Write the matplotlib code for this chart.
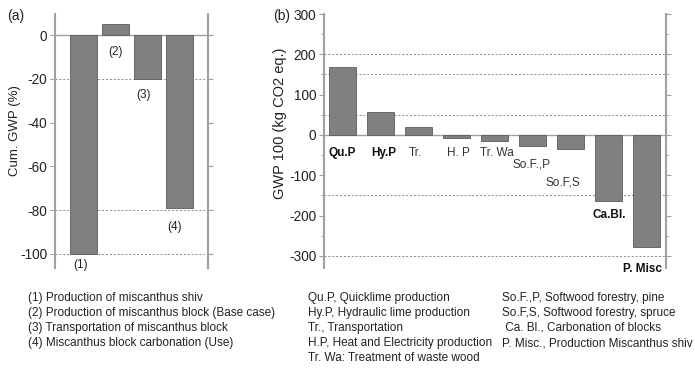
import matplotlib
matplotlib.use("Agg")
import matplotlib.pyplot as plt
from matplotlib.ticker import MultipleLocator

plt.rcParams['font.family'] = ['Liberation Sans', 'DejaVu Sans']
plt.rcParams['axes.unicode_minus'] = False

# ---- data ----
a_labels = ["(1)", "(2)", "(3)", "(4)"]
a_values = [-100, 5, -20, -79]

b_labels = ["Qu.P", "Hy.P", "Tr.", "H. P", "Tr. Wa", "So.F.,P", "So.F,S", "Ca.Bl.", "P. Misc"]
b_values = [168, 58, 20, -8, -15, -27, -34, -164, -277]
b_bold = [True, True, False, False, False, False, False, True, True]

legend_a = ["(1) Production of miscanthus shiv",
            "(2) Production of miscanthus block (Base case)",
            "(3) Transportation of miscanthus block",
            "(4) Miscanthus block carbonation (Use)"]
legend_b1 = ["Qu.P, Quicklime production",
             "Hy.P, Hydraulic lime production",
             "Tr., Transportation",
             "H.P, Heat and Electricity production",
             "Tr. Wa: Treatment of waste wood"]
legend_b2 = ["So.F.,P, Softwood forestry, pine",
             "So.F,S, Softwood forestry, spruce",
             " Ca. Bl., Carbonation of blocks",
             "P. Misc., Production Miscanthus shiv"]

# ---- layout (label placement) ----
a_lab_x = [-0.09, 0.0, -0.13, -0.17]
a_lab_y = [-105, -7.8, -27.4, -87.7]
b_lab_dx = [0.0, 0.07, -0.1, 0.04, 0.05, -0.03, -0.22, 0.0, -0.13]
b_lab_y = [-44, -44, -44, -44, -44, -74, -119, -199, -332]

W, H = 695, 368
fig = plt.figure(figsize=(W / 100, H / 100), dpi=100)

BAR = '#808080'
EDGE = '#5a5a5a'
SPINE = '#a0a0a0'
GRID = '#8a8a8a'
TXT = '#222222'


def style(ax):
    for s in ['top', 'bottom']:
        ax.spines[s].set_visible(False)
    for s in ['left', 'right']:
        ax.spines[s].set_color(SPINE)
        ax.spines[s].set_linewidth(1.5)
    ax.tick_params(axis='x', bottom=False, labelbottom=False)
    ax.tick_params(axis='y', which='both', direction='out', color=SPINE,
                   right=True, labelsize=9.8, labelcolor=TXT)
    ax.tick_params(axis='y', which='major', length=3.5, width=0.8, pad=2)
    ax.tick_params(axis='y', which='minor', length=2, width=0.6)


# ---- panel (a) ----
axa = fig.add_axes([55 / W, 1 - 268 / H, 153 / W, 254 / H])
style(axa)
xa = list(range(len(a_values)))
for g in [-20, -80, -100]:
    axa.axhline(g, color=GRID, lw=0.7, ls=(0, (2, 2)), zorder=0)
axa.axhline(0, color=SPINE, lw=1.0, zorder=1)
axa.bar(xa, a_values, width=0.84, color=BAR, edgecolor=EDGE, linewidth=0.6, zorder=2)
axa.set_xlim(-0.89, 3.89)
axa.set_ylim(-106.4, 9.6)
axa.yaxis.set_major_locator(MultipleLocator(20))
axa.set_ylabel("Cum. GWP (%)", fontsize=9.5, color=TXT)
axa.yaxis.set_label_coords(-0.222, 0.54)
for i, (lab, lx, ly) in enumerate(zip(a_labels, a_lab_x, a_lab_y)):
    axa.text(xa[i] + lx, ly, lab, ha='center', va='center', fontsize=8.5,
             color=TXT, clip_on=False)
fig.text(16 / W, 1 - 16 / H, "(a)", ha='center', va='center', fontsize=10, color=TXT)

# ---- panel (b) ----
axb = fig.add_axes([324 / W, 1 - 268 / H, 342 / W, 254 / H])
style(axb)
xb = list(range(len(b_values)))
for g in [200, 150, 50, -150, -300]:
    axb.axhline(g, color=GRID, lw=0.7, ls=(0, (2, 2)), zorder=0)
axb.axhline(0, color=SPINE, lw=1.0, zorder=1)
axb.bar(xb, b_values, width=0.71, color=BAR, edgecolor=EDGE, linewidth=0.6, zorder=2)
axb.set_xlim(-0.49, 8.5)
axb.set_ylim(-330, 300)
axb.yaxis.set_major_locator(MultipleLocator(100))
axb.yaxis.set_minor_locator(MultipleLocator(50))
axb.set_ylabel("GWP 100 (kg CO2 eq.)", fontsize=10.5, color=TXT)
axb.yaxis.set_label_coords(-0.108, 0.57)
for i, lab in enumerate(b_labels):
    axb.text(xb[i] + b_lab_dx[i], b_lab_y[i], lab, ha='center', va='center',
             fontsize=8.5, fontweight='bold' if b_bold[i] else 'normal',
             color='#111111' if b_bold[i] else '#333333', clip_on=False)
fig.text(282 / W, 1 - 16 / H, "(b)", ha='center', va='center', fontsize=10, color=TXT)

# ---- bottom legends ----
y0, dy = 298, 15
for k, t in enumerate(legend_a):
    fig.text(28 / W, 1 - (y0 + k * dy) / H, t, ha='left', va='center', fontsize=8.5, color=TXT)
for k, t in enumerate(legend_b1):
    fig.text(308 / W, 1 - (y0 + k * dy) / H, t, ha='left', va='center', fontsize=8.5, color=TXT)
for k, t in enumerate(legend_b2):
    fig.text(502 / W, 1 - (y0 + k * dy) / H, t, ha='left', va='center', fontsize=8.5, color=TXT)

fig.savefig("out.png", dpi=100)
